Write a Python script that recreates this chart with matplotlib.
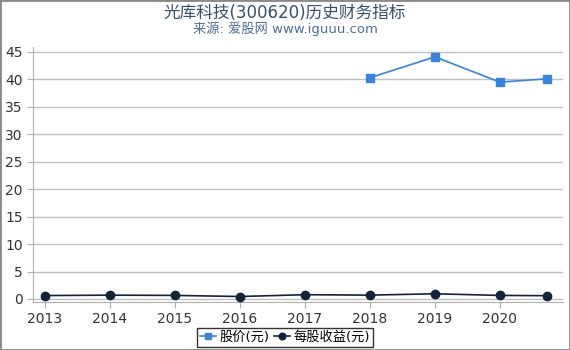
import matplotlib
matplotlib.use("Agg")
import matplotlib.pyplot as plt
from matplotlib.patches import Rectangle

plt.rcParams['font.family'] = ['DejaVu Sans', 'Noto Sans CJK SC']

# 数据
years = [2013, 2014, 2015, 2016, 2017, 2018, 2019, 2020, 2020.72]
tick_years = [2013, 2014, 2015, 2016, 2017, 2018, 2019, 2020]
price_years = [2018, 2019, 2020, 2020.72]
price = [40.3, 44.1, 39.5, 40.1]
eps = [0.62, 0.7, 0.65, 0.45, 0.78, 0.7, 0.95, 0.65, 0.6]


def main():

    fig = plt.figure(figsize=(5.7, 3.5), dpi=100)
    ax = fig.add_axes([33/570, 48/350, 530/570, 255/350])

    ax.plot(price_years, price, color="#3584de", marker="s", markersize=6,
            linewidth=1.2, label="股价(元)", zorder=3)
    ax.plot(years, eps, color="#13233d", marker="o", markersize=6,
            linewidth=1.2, label="每股收益(元)", zorder=3)

    ax.set_xlim(2012.82, 2020.97)
    ax.set_ylim(-0.55, 45.9)
    ax.set_yticks(range(0, 46, 5))
    ax.set_xticks(tick_years)

    ax.grid(True, axis="y", color="#c0c0c0", linewidth=1)
    ax.set_axisbelow(True)
    for s in ["top", "right"]:
        ax.spines[s].set_visible(False)
    ax.spines["left"].set_color("#b0b0b0")
    ax.spines["bottom"].set_color("#b0b0b0")
    ax.tick_params(axis="both", colors="#b0b0b0", labelcolor="#333333",
                   labelsize=10, length=4)

    fig.text(0.5, 0.962, "光库科技(300620)历史财务指标", ha="center", va="center",
             fontsize=12, color="#36506e")
    fig.text(0.5, 0.918, "来源: 爱股网 www.iguuu.com", ha="center", va="center",
             fontsize=9.5, color="#4d6d99")

    leg = fig.legend(loc="center", bbox_to_anchor=(0.5, 0.036), ncol=2,
                     fontsize=9.5, frameon=True, fancybox=False,
                     handlelength=1.2, handletextpad=0.3, columnspacing=0.3,
                     borderpad=0.25, markerscale=0.8)
    leg.get_frame().set_edgecolor("black")
    leg.get_frame().set_linewidth(1)

    # 外框
    fig.patches.append(Rectangle((0, 0), 1, 1, transform=fig.transFigure,
                                 fill=False, edgecolor="#888888", linewidth=2))

    fig.savefig("out.png", dpi=100)

    return


if __name__ == "__main__":
    main()
